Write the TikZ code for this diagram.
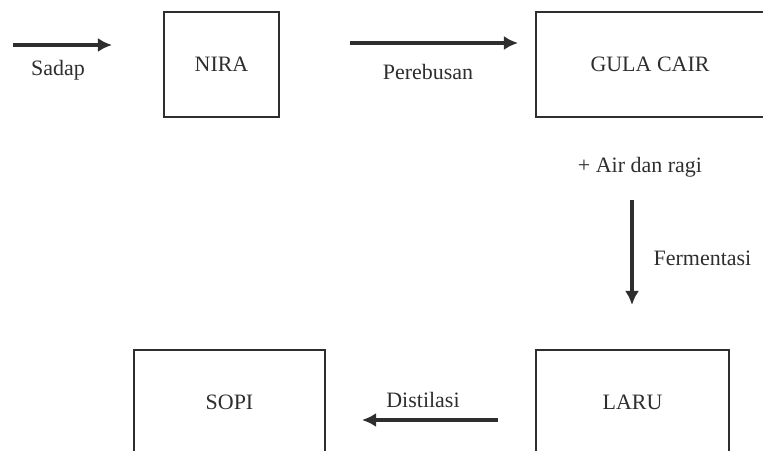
\documentclass[tikz,border=0pt]{standalone}
\usepackage{fontspec}
\setmainfont{Liberation Serif}
\usepackage{xcolor}
\usetikzlibrary{arrows.meta}
\definecolor{ink}{HTML}{2E2E2E}
\tikzset{
  box/.style={draw=ink, line width=1.1pt, rectangle, text=ink},
  lbl/.style={text=ink},
  flow/.style={->, draw=ink, line width=2pt}
}

\begin{document}
\begin{tikzpicture}[>={Latex[length=8pt,width=8pt]}, font=\fontsize{12.5}{15}\selectfont]
\useasboundingbox (0,0) rectangle (15.26,9);
\clip (0,0) rectangle (15.26,9);
{
\begin{scope}[every node/.style={box}]
    \node[minimum width=2.3cm, minimum height=2.1cm](nira) at (4.43, 7.71) {NIRA};
    \node[minimum width=4.56cm, minimum height=2.1cm](gula) at (13.0, 7.71) {GULA CAIR};
    \node[minimum width=3.86cm, minimum height=2.1cm](laru) at (12.65, 0.95) {LARU};
    \node[minimum width=3.82cm, minimum height=2.1cm](sopi) at (4.59, 0.95) {SOPI};
\end{scope}

\coordinate(s0) at (0.26, 8.1);
\coordinate(s1) at (2.24, 8.1);
\coordinate(p0) at (7.0, 8.14);
\coordinate(p1) at (10.36, 8.14);
\coordinate(f0) at (12.64, 5.0);
\coordinate(f1) at (12.64, 2.9);
\coordinate(d0) at (9.96, 0.6);
\coordinate(d1) at (7.24, 0.6);

\node[lbl](sadap) at (1.16, 7.6) {Sadap};
\node[lbl](rebus) at (8.56, 7.56) {Perebusan};
\node[lbl](ragi) at (12.8, 5.66) {+ Air dan ragi};
\node[lbl, anchor=west](ferm) at (12.95, 3.84) {Fermentasi};
\node[lbl](dist) at (8.46, 1.0) {Distilasi};

\path[flow] (s0) -- (s1);
\path[flow] (p0) -- (p1);
\path[flow] (f0) -- (f1);
\path[flow] (d0) -- (d1);
}
\end{tikzpicture}
\end{document}
